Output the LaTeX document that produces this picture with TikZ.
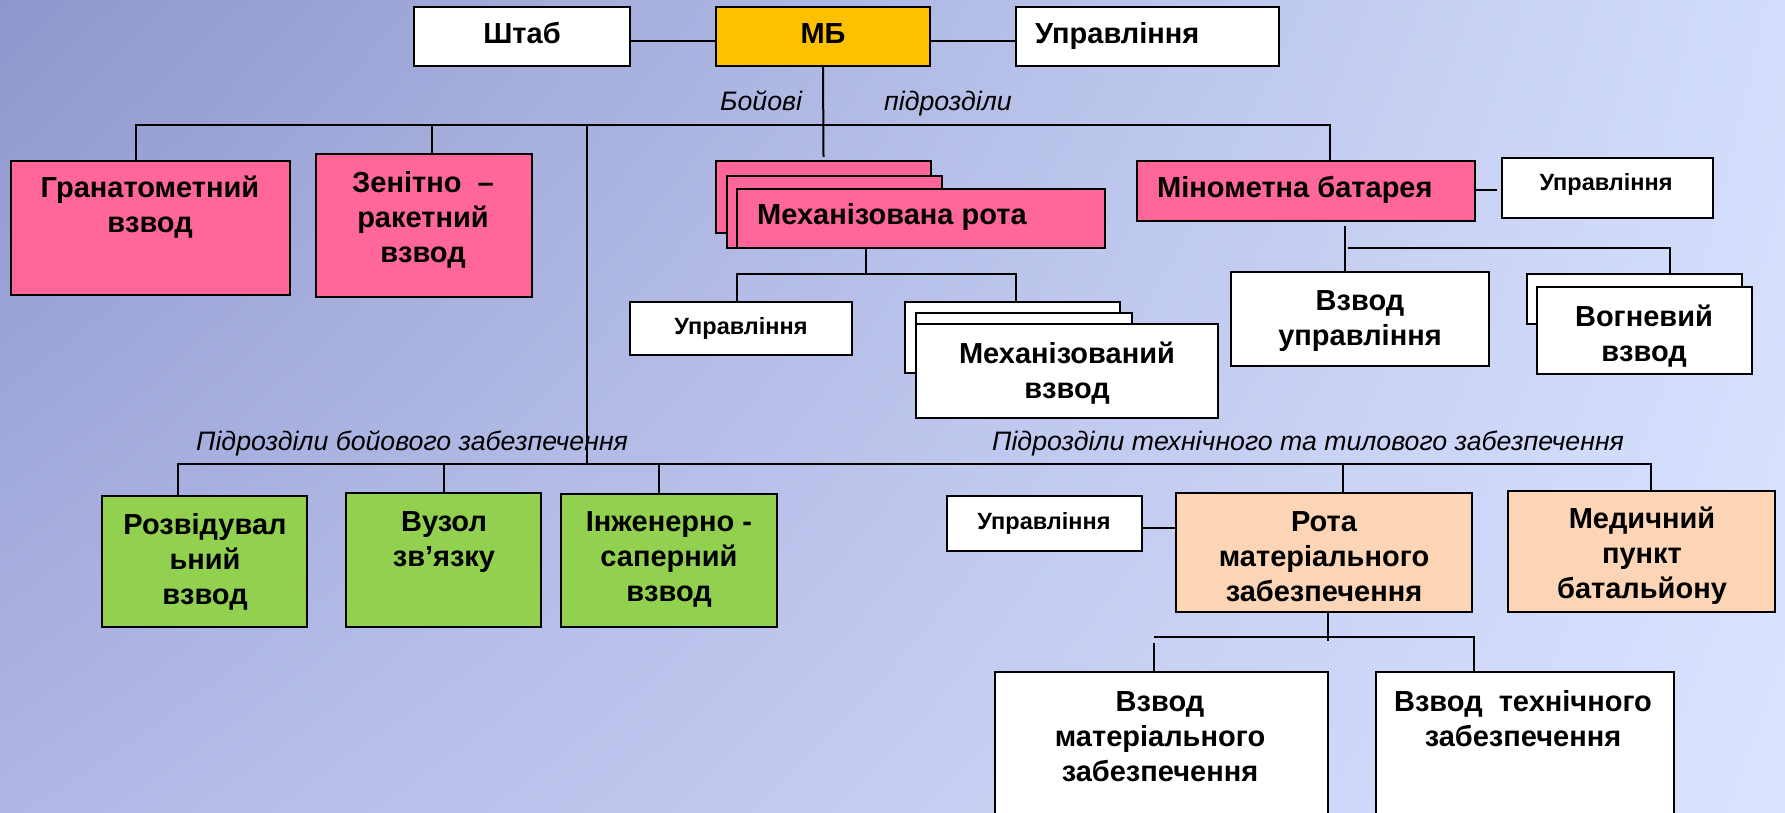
\documentclass[tikz,border=0pt]{standalone}
\usepackage{fontspec}
\setmainfont{Liberation Sans}
\usetikzlibrary{shadings}
\definecolor{pinkb}{HTML}{FF6699}
\definecolor{greenb}{HTML}{92D050}
\definecolor{peach}{HTML}{FBD5B5}
\definecolor{goldb}{HTML}{FFC000}
\definecolor{bgul}{HTML}{8E96CD}
\definecolor{bgur}{HTML}{D3DDFB}
\definecolor{bgll}{HTML}{B0B7E5}
\definecolor{bglr}{HTML}{DAE3FF}
\newcommand\ml[1]{\begin{tabular}[t]{@{}c@{}}#1\end{tabular}}
\newcommand\bx[6]{\node[box, fill=#2, minimum width={#5-#3}, minimum height={#6-#4}] (#1) at (#3,#4) {};}
\begin{document}
\begin{tikzpicture}[x=1pt,y=-1pt,
  box/.style={draw=black, line width=2.2pt, inner sep=0pt, outer sep=0pt, anchor=north west},
  t/.style={font=\bfseries\fontsize{29}{35}\selectfont, inner sep=0pt, anchor=base},
  ts/.style={font=\bfseries\fontsize{23.5}{28}\selectfont, inner sep=0pt, anchor=base},
  ti/.style={font=\itshape\fontsize{26.7}{30}\selectfont, inner sep=0pt, anchor=base west},
  ln/.style={line width=2pt, black}]
\useasboundingbox (0,0) rectangle (1785,813);
\clip (0,0) rectangle (1785,813);
\shade[upper left=bgul, upper right=bgur, lower left=bgll, lower right=bglr] (0,0) rectangle (1785,813);

% boxes
\bx{shtab}{white}{414}{7}{630}{66}
\bx{mb}{goldb}{716}{7}{930}{66}
\bx{upr0}{white}{1016}{7}{1279}{66}
\bx{gran}{pinkb}{11}{161}{290}{295}
\bx{zen}{pinkb}{316}{154}{532}{297}
\bx{m1}{pinkb}{716}{161}{931}{233}
\bx{m2}{pinkb}{727}{176}{942}{248}
\bx{m3}{pinkb}{737}{189}{1105}{248}
\bx{upr1}{white}{630}{302}{852}{355}
\bx{mv1}{white}{905}{302}{1120}{373}
\bx{mv2}{white}{916}{313}{1132}{380}
\bx{mv3}{white}{916}{324}{1218}{418}
\bx{minb}{pinkb}{1137}{161}{1475}{221}
\bx{upr2}{white}{1502}{158}{1713}{218}
\bx{vu}{white}{1231}{272}{1489}{366}
\bx{vgb}{white}{1527}{274}{1742}{324}
\bx{vgf}{white}{1537}{287}{1752}{374}
\bx{rozv}{greenb}{102}{496}{307}{627}
\bx{vuz}{greenb}{346}{493}{541}{627}
\bx{inzh}{greenb}{561}{494}{777}{627}
\bx{upr3}{white}{947}{496}{1142}{551}
\bx{rota}{peach}{1176}{493}{1472}{612}
\bx{med}{peach}{1508}{491}{1775}{612}
\bx{vm}{white}{995}{672}{1328}{830}
\bx{vt}{white}{1376}{672}{1674}{830}

% connectors
\draw[ln] (shtab.east |- 0,41) -- (mb.west |- 0,41);
\draw[ln] (mb.east |- 0,41) -- (upr0.west |- 0,41);
\draw[ln] (mb.south) -- ([yshift=4pt]m1.north);
\draw[ln] (gran.north -| 136,0) -- (136,125) -- (1330,125) -- (minb.north -| 1330,0);
\draw[ln] (432,125) -- (zen.north -| 432,0);
\draw[ln] (587,125) -- (587,464);
\draw[ln] (m3.south -| 866,0) -- (866,274);
\draw[ln] (upr1.north -| 737,0) -- (737,274) -- (1016,274) -- (mv1.north -| 1016,0);
\draw[ln] (minb.east |- 0,190) -- (1497,190);
\draw[ln] (1345,226) -- (vu.north -| 1345,0);
\draw[ln] (1348,248) -- (1670,248) -- (vgb.north -| 1670,0);
\draw[ln] (rozv.north -| 178,0) -- (178,464) -- (1651,464) -- (med.north -| 1651,0);
\draw[ln] (444,464) -- (vuz.north -| 444,0);
\draw[ln] (659,464) -- (inzh.north -| 659,0);
\draw[ln] (1343,464) -- (rota.north -| 1343,0);
\draw[ln] (upr3.east |- 0,528) -- (rota.west |- 0,528);
\draw[ln] (rota.south -| 1328,0) -- (1328,641);
\draw[ln] (1154,637) -- (1474,637) -- (vt.north -| 1474,0);
\draw[ln] (1154,643) -- (vm.north -| 1154,0);

% texts
\node[t] (shtabT) at (522,44) {Штаб};
\node[t] (mbT) at (823,44) {МБ};
\node[t, anchor=base west] (upr0T) at (1035,44) {Управління};
\node[ti] (lab1) at (720,111) {Бойові};
\node[ti] (lab2) at (884,111) {підрозділи};
\node[t] (granT) at (150,198) {\ml{Гранатометний\\взвод}};
\node[t] (zenT) at (423,193) {\ml{Зенітно\ \ –\\ракетний\\взвод}};
\node[t, anchor=base west] (m3T) at (757,224) {Механізована рота};
\node[ts] (upr1T) at (741,334) {Управління};
\node[t] (mv3T) at (1067,363) {\ml{Механізований\\взвод}};
\node[t, anchor=base west] (minbT) at (1157,198) {Мінометна батарея};
\node[ts] (upr2T) at (1606,191) {Управління};
\node[t] (vuT) at (1360,310) {\ml{Взвод\\управління}};
\node[t] (vgT) at (1644,326) {\ml{Вогневий\\взвод}};
\node[ti] (lab3) at (196,450) {Підрозділи бойового забезпечення};
\node[ti] (lab4) at (992,450) {Підрозділи технічного та тилового забезпечення};
\node[t] (rozvT) at (205,534) {\ml{Розвідувал\\ьний\\взвод}};
\node[t] (vuzT) at (444,531) {\ml{Вузол\\зв’язку}};
\node[t] (inzhT) at (669,531) {\ml{Інженерно -\\саперний\\взвод}};
\node[ts] (upr3T) at (1044,529) {Управління};
\node[t] (rotaT) at (1324,531) {\ml{Рота\\матеріального\\забезпечення}};
\node[t] (medT) at (1642,528) {\ml{Медичний\\пункт\\батальйону}};
\node[t] (vmT) at (1160,711) {\ml{Взвод\\матеріального\\забезпечення}};
\node[t] (vtT) at (1523,711) {\ml{Взвод\ \ технічного\\забезпечення}};
\end{tikzpicture}
\end{document}
